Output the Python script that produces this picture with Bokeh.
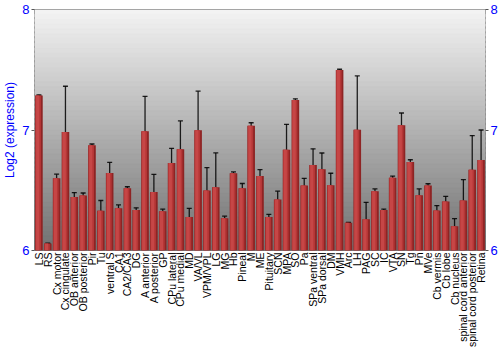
import math
from bokeh.plotting import figure
from bokeh.models import ColumnDataSource, FactorRange, Range1d, LinearAxis, FixedTicker, Whisker, TeeHead, BoxAnnotation
from bokeh.transform import dodge
from bokeh.embed import file_html
from bokeh.resources import INLINE

regions = ["LS", "RS", "Cx motor", "Cx cingulate", "OB anterior", "OB posterior", "Pir", "Tu",
           "ventral S", "CA1", "CA2/CA3", "DG", "A anterior", "A posterior", "GP", "CPu lateral",
           "CPu medial", "MD", "VA/VL", "VPM/VPL", "LG", "MG", "Hb", "Pineal", "M", "ME",
           "Pituitary", "SCN", "MPA", "SO", "Pa", "SPa ventral", "SPa dorsal", "DM", "VMH", "Arc",
           "LH", "PAG", "SC", "IC", "VTA", "SN", "Tg", "Pn", "MVe", "Cb vermis", "Cb lobe",
           "Cb nucleus", "spinal cord anterior", "spinal cord posterior", "Retina"]
expression = [7.287, 6.058, 6.600, 6.983, 6.445, 6.457, 6.873, 6.329,
              6.644, 6.350, 6.517, 6.337, 6.989, 6.486, 6.326, 6.727,
              6.840, 6.277, 6.997, 6.497, 6.525, 6.268, 6.641, 6.517, 7.036, 6.619,
              6.277, 6.423, 6.837, 7.249, 6.539, 6.710, 6.674, 6.541, 7.497, 6.230,
              7.003, 6.260, 6.492, 6.337, 6.603, 7.039, 6.735, 6.459, 6.539, 6.332, 6.406,
              6.202, 6.414, 6.671, 6.751]
error = [0.005, 0.002, 0.033, 0.38, 0.036, 0.02, 0.011, 0.086,
         0.087, 0.028, 0.012, 0.017, 0.29, 0.145, 0.017, 0.12,
         0.235, 0.072, 0.325, 0.19, 0.285, 0.017, 0.011, 0.039, 0.024, 0.052,
         0.022, 0.069, 0.21, 0.01, 0.06, 0.134, 0.135, 0.10, 0.007, 0.003,
         0.446, 0.14, 0.019, 0.007, 0.015, 0.102, 0.018, 0.052, 0.015, 0.041, 0.043,
         0.062, 0.174, 0.283, 0.249]
y_ticks = [6, 7, 8]

src = ColumnDataSource(dict(
    x=regions, top=expression,
    upper=[v + e for v, e in zip(expression, error)],
    lower=[v - e for v, e in zip(expression, error)],
))

p = figure(width=500, height=350, x_range=FactorRange(*regions, range_padding=0.0),
           y_range=Range1d(6, 8), output_backend="svg", toolbar_location=None,
           min_border_top=9, min_border_right=0, min_border_left=0, min_border_bottom=0)
p.x_range.factor_padding = 0.0
p.background_fill_color = "#b2b2b2"
p.border_fill_color = "white"
p.outline_line_color = "#7a7a7a"
p.outline_line_width = 1

# vertical grey gradient background
n = 50
c0, c1 = (0xf4, 0xf4, 0xf4), (0x70, 0x70, 0x70)
for i in range(n):
    t = (i + 0.5) / n
    col = tuple(int(round(c0[k] + (c1[k] - c0[k]) * t)) for k in range(3))
    hexc = "#%02x%02x%02x" % col
    b = BoxAnnotation(top=8 - 2 * i / n, bottom=8 - 2 * (i + 1) / n - 0.02,
                      fill_color=hexc, fill_alpha=1, line_color=hexc, line_width=1,
                      level="underlay")
    p.add_layout(b)

p.ygrid.ticker = FixedTicker(ticks=[7])
p.ygrid.grid_line_color = "white"
p.ygrid.grid_line_width = 2
p.ygrid.level = "underlay"
p.xgrid.grid_line_color = None

# bars with a simple shaded look
p.vbar(x="x", top="top", bottom=6, width=0.86, source=src, fill_color="#8e2424", line_color=None)
p.vbar(x=dodge("x", -0.08, range=p.x_range), top="top", bottom=6, width=0.62, source=src,
       fill_color="#b53636", line_color=None)
p.vbar(x=dodge("x", -0.14, range=p.x_range), top="top", bottom=6, width=0.36, source=src,
       fill_color="#c64646", line_color=None)

w = Whisker(base="x", upper="upper", lower="lower", source=src, line_color="black",
            line_width=1.3, line_alpha=0.85,
            upper_head=TeeHead(size=5, line_color="black", line_width=1.3, line_alpha=0.85),
            lower_head=TeeHead(size=5, line_color="black", line_width=1.3, line_alpha=0.85))
p.add_layout(w)

blue = "#0000ff"
ya = p.yaxis[0]
ya.ticker = FixedTicker(ticks=y_ticks)
ya.axis_label = "Log2 (expression)"
ya.axis_label_text_color = blue
ya.axis_label_text_font = "Liberation Sans"
ya.axis_label_text_font_size = "12px"
ya.axis_label_text_font_style = "normal"
ya.axis_label_standoff = 2
ya.major_label_text_color = blue
ya.major_label_text_font = "Liberation Sans"
ya.major_label_text_font_size = "13px"
ya.major_label_standoff = 2
ya.major_tick_out = 3
ya.major_tick_in = 0
ya.minor_tick_out = 0
ya.minor_tick_in = 0
ya.axis_line_color = None
ya.major_tick_line_color = "#555555"

ra = LinearAxis(ticker=FixedTicker(ticks=y_ticks))
ra.major_label_text_color = blue
ra.major_label_text_font = "Liberation Sans"
ra.major_label_text_font_size = "13px"
ra.major_label_standoff = 2
ra.major_tick_out = 3
ra.major_tick_in = 0
ra.minor_tick_out = 0
ra.minor_tick_in = 0
ra.axis_line_color = None
ra.major_tick_line_color = "#555555"
p.add_layout(ra, "right")

xa = p.xaxis[0]
xa.major_label_orientation = math.pi / 2
xa.major_label_text_font = "Liberation Sans"
xa.major_label_text_font_size = "10.5px"
xa.major_label_text_color = "black"
xa.major_label_standoff = 2
xa.major_tick_line_color = None
xa.major_tick_out = 0
xa.major_tick_in = 0
xa.minor_tick_out = 0
xa.minor_tick_in = 0
xa.axis_label_standoff = 0
xa.axis_line_color = None

open("out.html", "w").write(file_html(p, INLINE))
